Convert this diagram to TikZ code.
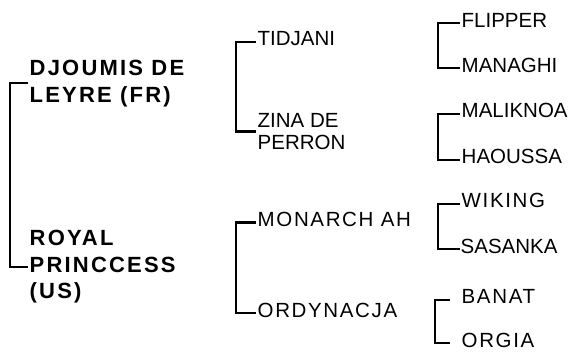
\documentclass[tikz,border=0pt]{standalone}
\usepackage{fontspec}
\setmainfont{Liberation Sans}
\newfontfamily\boldwide[LetterSpace=10]{Liberation Sans Bold}
\newfontfamily\regwide[LetterSpace=8]{Liberation Sans}
\usetikzlibrary{positioning, calc}

\begin{document}
\begin{tikzpicture}[
    x=1pt, y=1pt,
    horse/.style={anchor=west, inner sep=1.5pt, font=\fontsize{20.5}{22.3}\selectfont},
    single/.style={horse, text height=8pt, text depth=0pt},
    spaced/.style={single, font=\regwide\fontsize{20.5}{22.3}\selectfont},
    parent/.style={horse, align=left, font=\boldwide\fontsize{22}{26.5}\selectfont},
    bracket/.style={draw=black, line width=2.1pt}
]
    \useasboundingbox (0,0) rectangle (571,-352);

    % Parents
    \node[parent] (djoumis) at (28,-83.4) {DJOUMIS DE\\LEYRE (FR)};
    \node[parent] (royal) at (28,-266.7) {ROYAL\\PRINCCESS\\(US)};

    % Grandparents
    \node[single] (tidjani) at (256,-42) {TIDJANI};
    \node[horse, align=left] (zina) at (256,-131.5) {ZINA DE\\PERRON};
    \node[spaced] (monarch) at (256,-222.5) {MONARCH AH};
    \node[spaced] (ordynacja) at (256,-313.3) {ORDYNACJA};

    % Great-grandparents
    \node[single] (flipper) at (460,-23.3) {FLIPPER};
    \node[single] (managhi) at (460,-68.3) {MANAGHI};
    \node[single] (maliknoa) at (460,-114) {MALIKNOA};
    \node[single] (haoussa) at (460,-160) {HAOUSSA};
    \node[spaced] (wiking) at (460,-204) {WIKING};
    \node[single] (sasanka) at (459,-249.3) {SASANKA};
    \node[spaced] (banat) at (460,-300) {BANAT};
    \node[spaced] (orgia) at (460,-343.3) {ORGIA};

    % Brackets
    \draw[bracket] (djoumis.west) -- ++(-18,0) |- (royal.west);
    \draw[bracket] (tidjani.west) -- ++(-20,0) |- (zina.west);
    \draw[bracket] (monarch.west) -- ++(-20,0) |- (ordynacja.west);
    \draw[bracket] (flipper.west) -- ++(-22,0) |- (managhi.west);
    \draw[bracket] (maliknoa.west) -- ++(-22,0) |- (haoussa.west);
    \draw[bracket] (wiking.west) -- ++(-22,0) |- ([xshift=1]sasanka.west);
    \draw[bracket] ([xshift=-10]banat.west) -- ++(-15,0) |- ([xshift=-10]orgia.west);

\end{tikzpicture}
\end{document}
